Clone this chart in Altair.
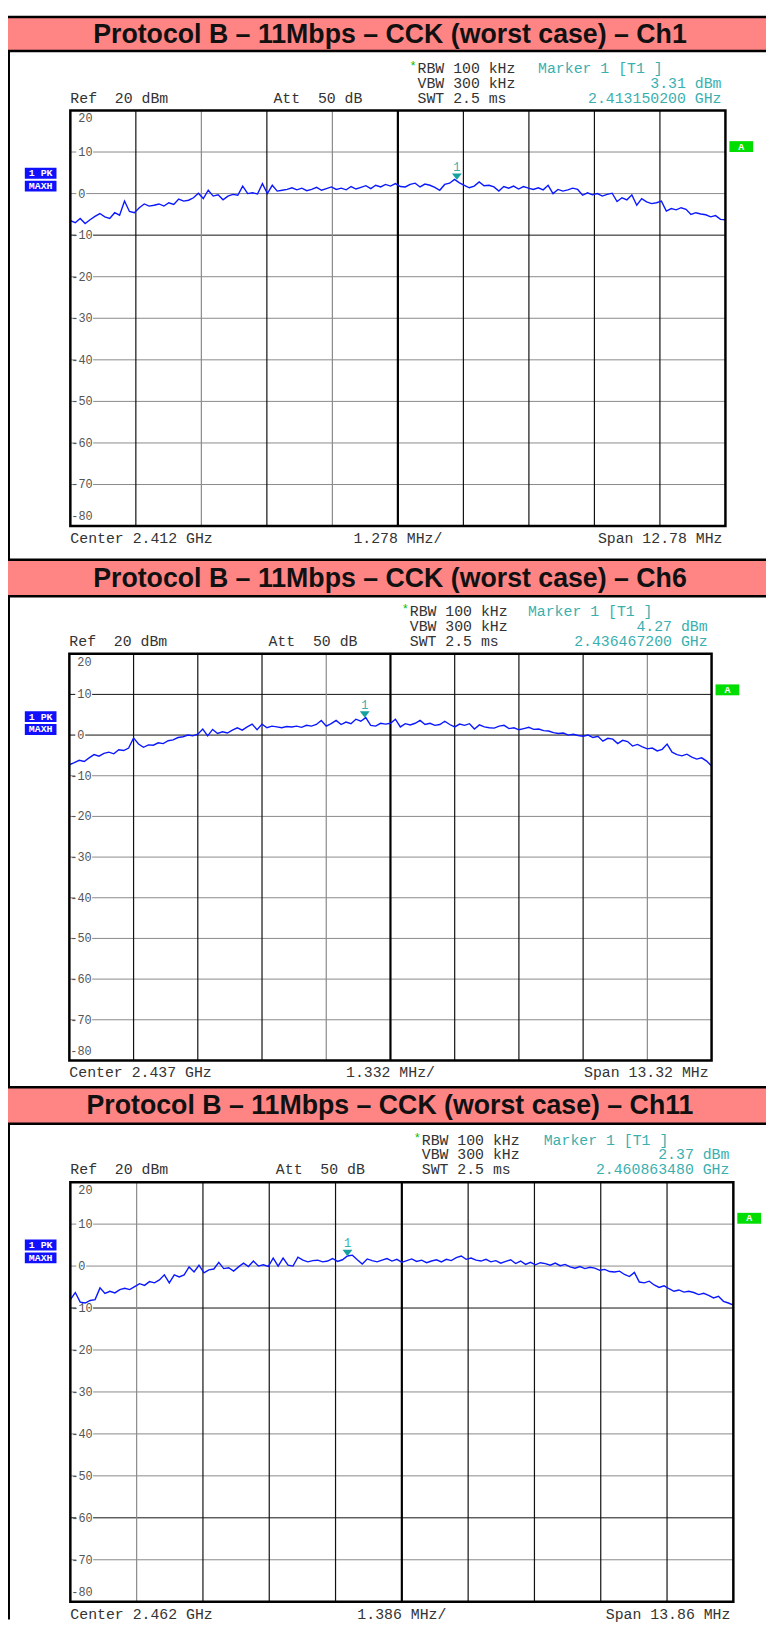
import altair as alt
import numpy as np
import pandas as pd

# ------------------------------------------------------------------ data
TITLES = [
    "Protocol B – 11Mbps – CCK (worst case) – Ch1",
    "Protocol B – 11Mbps – CCK (worst case) – Ch6",
    "Protocol B – 11Mbps – CCK (worst case) – Ch11",
]
CENTER_GHZ = [2.412, 2.437, 2.462]
SPAN_MHZ = [12.78, 13.32, 13.86]
DIV_LABEL = ["1.278", "1.332", "1.386"]
REF_DBM = 20
ATT_DB = 50
RBW = "100 kHz"
VBW = "300 kHz"
SWT = "2.5 ms"
MARKER_GHZ = [2.413150200, 2.436467200, 2.460863480]
MARKER_DBM = [3.31, 4.27, 2.37]
LEVEL_TICKS = [20, 10, 0, -10, -20, -30, -40, -50, -60, -70, -80]
GRID_DIVS = [1, 2, 3, 4, 5, 6, 7, 8, 9]
LIGHT_VDIV = [[2, 4], [4, 9], [1]]
DARK_HLINE = [[-10], [10, 0], [-10, -60]]

TRACE_CH1 = [
    -6.5, -7.0, -6.0, -7.2, -6.3, -5.5, -4.8, -5.6, -6.0, -4.6,
    -5.2, -1.8, -4.3, -4.6, -3.4, -2.5, -3.0, -2.8, -2.5, -3.0,
    -2.2, -2.6, -1.3, -1.8, -1.6, -1.0, 0.1, -1.2, 0.8, -0.6,
    -0.3, -1.5, -0.6, -0.2, -0.4, 1.8, 0.0, 0.2, -0.1, 2.4,
    0.0, 2.0, 0.6, 0.8, 1.0, 1.4, 0.9, 1.3, 0.7, 1.0,
    1.5, 0.8, 1.2, 1.6, 1.0, 1.3, 0.9, 1.7, 1.1, 1.5,
    1.9, 1.2, 2.0, 1.6, 2.2, 1.8, 2.4, 1.7, 1.6, 2.2,
    2.5, 1.6, 2.3, 2.0, 1.5, 0.8, 2.2, 2.5, 3.4, 2.6,
    2.0, 1.4, 1.8, 2.8, 1.9, 2.0, 1.6, 0.6, 1.7, 1.3,
    1.8, 1.1, 1.7, 1.3, 1.0, 1.4, 0.9, 2.0, 0.0, 1.0,
    0.6, 0.9, 1.3, 1.0, -0.4, 0.2, -0.3, 0.0, -0.6, -0.2,
    0.1, -1.9, -1.0, -1.5, -0.3, -2.8, -1.2, -2.0, -2.4, -2.2,
    -1.8, -4.2, -3.6, -3.9, -3.4, -3.8, -5.0, -4.6, -4.9, -5.1,
    -5.6, -5.3, -6.2, -6.3,
]
TRACE_CH6 = [
    -7.3, -6.8, -6.2, -6.5, -5.6, -4.8, -5.2, -4.5, -4.2, -4.6,
    -3.6, -3.8, -3.2, -0.7, -2.2, -3.0, -2.4, -2.5, -1.9, -2.1,
    -1.4, -1.2, -0.6, -0.4, 0.0, -0.2, 0.2, 1.5, -0.2, 1.4,
    0.4, 0.8, 0.5, 1.2, 1.8, 1.2, 2.0, 2.7, 1.3, 2.7,
    1.8, 2.2, 2.0, 1.8, 2.1, 2.0, 2.2, 1.9, 2.4, 2.2,
    2.6, 3.6, 2.2, 2.8, 3.6, 2.6, 3.2, 2.8, 3.9, 3.4,
    4.3, 2.4, 2.2, 2.9, 2.7, 2.9, 3.9, 2.0, 2.8, 2.5,
    2.9, 3.6, 2.6, 2.9, 2.4, 2.6, 3.4, 2.6, 2.0, 2.7,
    2.4, 2.8, 1.5, 2.5, 2.0, 1.8, 1.7, 2.2, 2.4, 1.6,
    1.8, 1.3, 1.6, 1.9, 1.4, 1.5, 1.1, 1.0, 0.6, 0.4,
    0.5, 0.0, 0.2, -0.1, -0.3, 0.0, -0.6, -0.3, -1.5, -0.8,
    -1.0, -2.1, -1.3, -1.6, -2.7, -2.3, -2.9, -3.4, -3.2, -3.9,
    -3.5, -2.2, -4.2, -4.8, -5.1, -4.7, -5.4, -5.9, -5.6, -6.4,
    -7.6,
]
TRACE_CH11 = [
    -8.0, -6.3, -8.6, -8.8, -8.2, -8.0, -5.2, -6.5, -6.0, -6.4,
    -5.6, -5.3, -5.6, -4.9, -4.2, -4.6, -3.7, -4.0, -3.3, -2.1,
    -4.0, -2.1, -2.6, -2.1, -0.2, -1.4, 0.2, -1.6, -0.9, -0.7,
    0.9, -0.6, -0.4, -1.2, -0.2, 0.7, -0.1, 1.2, 0.0, 0.3,
    -0.1, 1.9, 0.0, 1.9, 0.2, 0.0, 2.1, 1.4, 1.0, 1.3,
    1.4, 1.0, 1.2, 1.8, 1.1, 1.5, 2.4, 2.6, 1.5, 0.5,
    1.7, 1.3, 1.0, 1.4, 1.8, 1.2, 1.6, 0.9, 1.3, 1.7,
    1.1, 1.4, 0.8, 1.2, 1.5, 1.0, 1.6, 1.3, 2.0, 2.4,
    1.6, 1.9, 1.4, 1.2, 1.6, 1.0, 1.3, 0.7, 1.1, 1.5,
    0.6, 1.2, 0.4, 0.9, 0.3, 0.8, 0.6, 0.2, 0.7, 0.1,
    0.4, -0.2, -0.5, -0.1, -0.6, -0.3, -0.5, -1.0, -0.8, -1.3,
    -1.4, -1.2, -2.0, -2.5, -1.5, -3.8, -4.0, -3.6, -4.5, -5.1,
    -4.7, -5.4, -6.0, -5.7, -6.2, -6.0, -6.3, -6.8, -6.5, -7.0,
    -7.6, -7.2, -8.4, -8.8, -9.3,
]
TRACES = [TRACE_CH1, TRACE_CH6, TRACE_CH11]

# ------------------------------------------------------------------ layout (page px)
LAYOUT = [
    dict(L=71, R=733, T=103, B=523, ht=8.5, hb=43),
    dict(L=70, R=719, T=652, B=1063, ht=557, hb=594),
    dict(L=71, R=741, T=1186, B=1610, ht=1090, hb=1127),
]
OFF = 8
TOTAL_W = 766
TOTAL_H = 1620
MONO = "Liberation Mono"
TITLE_FONT = "Liberation Sans Narrow, Arial Narrow, Liberation Sans"
TEAL = "#3aafaf"
TEAL_DARK = "#17a0a0"
TRACE_BLUE = "#0a18ff"
PINK = "#ff8585"
NB = lambda s: s.replace(" ", "\u00a0")

ONE = pd.DataFrame({"a": [0]})


def txt(s, x, y, size=15, color="#333333", align="left", font=MONO,
        weight="normal", baseline="middle", dy=0):
    kw = dict(align=align, baseline=baseline, font=font, fontSize=size,
              color=color, fontWeight=weight)
    if dy:
        kw["dy"] = dy
    return alt.Chart(pd.DataFrame({"t": [NB(s) if font == MONO else s]})).mark_text(**kw).encode(
        x=alt.value(x), y=alt.value(y), text="t:N")


def rect(x1, x2, y1, y2, color):
    return alt.Chart(ONE).mark_rect(color=color).encode(
        x=alt.value(x1), x2=alt.value(x2), y=alt.value(y1), y2=alt.value(y2))


def hrule(x1, x2, y, width=2.5, color="black"):
    return alt.Chart(ONE).mark_rule(color=color, strokeWidth=width).encode(
        x=alt.value(x1), x2=alt.value(x2), y=alt.value(y))


layers = []
# outer left border
layers.append(alt.Chart(ONE).mark_rule(color="black", strokeWidth=2).encode(
    x=alt.value(1), y=alt.value(0), y2=alt.value(TOTAL_H)))

for i in range(3):
    p = LAYOUT[i]
    L, R, T, B = p["L"] - OFF, p["R"] - OFF, p["T"] - OFF, p["B"] - OFF
    ht, hb = p["ht"] - OFF, p["hb"] - OFF
    W = R - L
    c = CENTER_GHZ[i] * 1000.0
    span = SPAN_MHZ[i]
    f0, f1 = c - span / 2, c + span / 2
    xs = alt.Scale(domain=[f0, f1], range=[L, R], nice=False, zero=False)
    ys = alt.Scale(domain=[-80, 20], range=[B, T], nice=False, zero=False)
    X = lambda f: alt.X(f, type="quantitative", scale=xs, axis=None)
    Y = lambda f: alt.Y(f, type="quantitative", scale=ys, axis=None)

    # header bar
    layers.append(rect(0, TOTAL_W, ht, hb, PINK))
    layers.append(hrule(0, TOTAL_W, ht))
    layers.append(hrule(0, TOTAL_W, hb))
    layers.append(txt(TITLES[i], 386, (ht + hb) / 2 + 1, size=27, color="#111111",
                      align="center", font=TITLE_FONT, weight="bold"))

    # instrument settings text
    xa = L + 0.31 * W
    xr = L + 0.53 * W
    xm = L + 0.714 * W
    y1, y2, y3 = T - 43, T - 28, T - 13
    layers.append(txt("*", xr - 8, y1 - 2, size=12, color="#00c000"))
    layers.append(txt(f"RBW {RBW}", xr, y1))
    layers.append(txt(f"VBW {VBW}", xr, y2))
    layers.append(txt(f"SWT {SWT}", xr, y3))
    layers.append(txt(f"Ref  {REF_DBM} dBm", L, y3))
    layers.append(txt(f"Att  {ATT_DB} dB", xa, y3))
    layers.append(txt("Marker 1 [T1 ]", xm, y1, color=TEAL))
    layers.append(txt(f"{MARKER_DBM[i]:.2f} dBm", R - 4, y2, color=TEAL, align="right"))
    layers.append(txt(f"{MARKER_GHZ[i]:.9f} GHz", R - 4, y3, color=TEAL, align="right"))

    # bottom text
    yb = B + 12
    layers.append(txt(f"Center {CENTER_GHZ[i]} GHz", L, yb))
    layers.append(txt(f"{DIV_LABEL[i]} MHz/", L + W / 2, yb, align="center"))
    layers.append(txt(f"Span {SPAN_MHZ[i]} MHz", R - 3, yb, align="right"))

    # side labels
    layers.append(rect(R + 4, R + 28, T + 31, T + 42, "#00dd00"))
    layers.append(txt("A", R + 16, T + 36.5, size=10, color="white", align="center", weight="bold"))
    layers.append(rect(17, 49, T + 58, T + 69, "#1010ff"))
    layers.append(rect(17, 49, T + 71, T + 82, "#1010ff"))
    layers.append(txt("1 PK", 33, T + 63.5, size=10, color="white", align="center", weight="bold"))
    layers.append(txt("MAXH", 33, T + 76.5, size=10, color="white", align="center", weight="bold"))

    # grid
    ticks = pd.DataFrame({"level": LEVEL_TICKS, "lab": [str(v) for v in LEVEL_TICKS]})
    mids = ticks[(ticks.level < 20) & (ticks.level > -80)]
    layers.append(alt.Chart(mids).mark_rule(strokeWidth=1).encode(
        y=Y("level"), x=alt.value(L), x2=alt.value(R),
        color=alt.condition(alt.FieldOneOfPredicate(field="level", oneOf=DARK_HLINE[i]),
                            alt.value("#111111"), alt.value("#8a8a8a"))))
    vdf = pd.DataFrame({"k": GRID_DIVS})
    vdf["f"] = f0 + vdf["k"] * span / 10.0
    layers.append(alt.Chart(vdf[vdf.k != 5]).mark_rule(strokeWidth=1.2).encode(
        x=X("f"), y=alt.value(T), y2=alt.value(B),
        color=alt.condition(alt.FieldOneOfPredicate(field="k", oneOf=LIGHT_VDIV[i]),
                            alt.value("#8a8a8a"), alt.value("#111111"))))
    layers.append(alt.Chart(vdf[vdf.k == 5]).mark_rule(strokeWidth=2.2, color="black").encode(
        x=X("f"), y=alt.value(T), y2=alt.value(B)))

    # level labels with white gaps in the grid
    big = mids[mids.level != 0]
    zero = mids[mids.level == 0]
    layers.append(alt.Chart(big).mark_rule(color="white", strokeWidth=9).encode(
        y=Y("level"), x=alt.value(L + 6), x2=alt.value(L + 23)))
    layers.append(alt.Chart(zero).mark_rule(color="white", strokeWidth=9).encode(
        y=Y("level"), x=alt.value(L + 6), x2=alt.value(L + 16)))
    lab_kw = dict(font=MONO, fontSize=12, color="#555555", align="left")
    layers.append(alt.Chart(mids[mids.level >= 0]).mark_text(baseline="middle", **lab_kw).encode(
        y=Y("level"), x=alt.value(L + 8), text="lab:N"))
    layers.append(alt.Chart(mids[mids.level < 0]).mark_text(baseline="middle", **lab_kw).encode(
        y=Y("level"), x=alt.value(L + 1), text="lab:N"))
    layers.append(alt.Chart(ticks[ticks.level == 20]).mark_text(baseline="top", dy=3, **lab_kw).encode(
        y=Y("level"), x=alt.value(L + 8), text="lab:N"))
    layers.append(alt.Chart(ticks[ticks.level == -80]).mark_text(baseline="bottom", dy=-3, **lab_kw).encode(
        y=Y("level"), x=alt.value(L + 1), text="lab:N"))

    # trace
    tr = pd.DataFrame({"f": np.linspace(f0, f1, len(TRACES[i])), "dbm": TRACES[i]})
    layers.append(alt.Chart(tr).mark_line(color=TRACE_BLUE, strokeWidth=1.4).encode(
        x=X("f"), y=Y("dbm")))

    # frame
    fr = pd.DataFrame({"a": [f0], "b": [f1], "top": [20], "bot": [-80]})
    layers.append(alt.Chart(fr).mark_rect(fillOpacity=0, stroke="black", strokeWidth=2.5).encode(
        x=X("a"), x2="b:Q", y=Y("top"), y2="bot:Q"))

    # marker
    mk = pd.DataFrame({"f": [MARKER_GHZ[i] * 1000.0], "dbm": [MARKER_DBM[i]], "t": ["1"]})
    layers.append(alt.Chart(mk).mark_point(shape="M-1,-1.3L1,-1.3L0,0Z", filled=True, size=100,
                                           color=TEAL_DARK, opacity=1).encode(x=X("f"), y=Y("dbm")))
    layers.append(alt.Chart(mk).mark_text(font=MONO, fontSize=12, color=TEAL, dy=-13,
                                          baseline="middle").encode(x=X("f"), y=Y("dbm"), text="t:N"))

chart = alt.layer(*layers).resolve_scale(x="independent", y="independent", color="independent").properties(
    width=TOTAL_W, height=TOTAL_H, padding=0, autosize="none", background="white"
).configure_view(stroke=None)

chart.save("out.html", embed_options={"renderer": "svg", "actions": False})
